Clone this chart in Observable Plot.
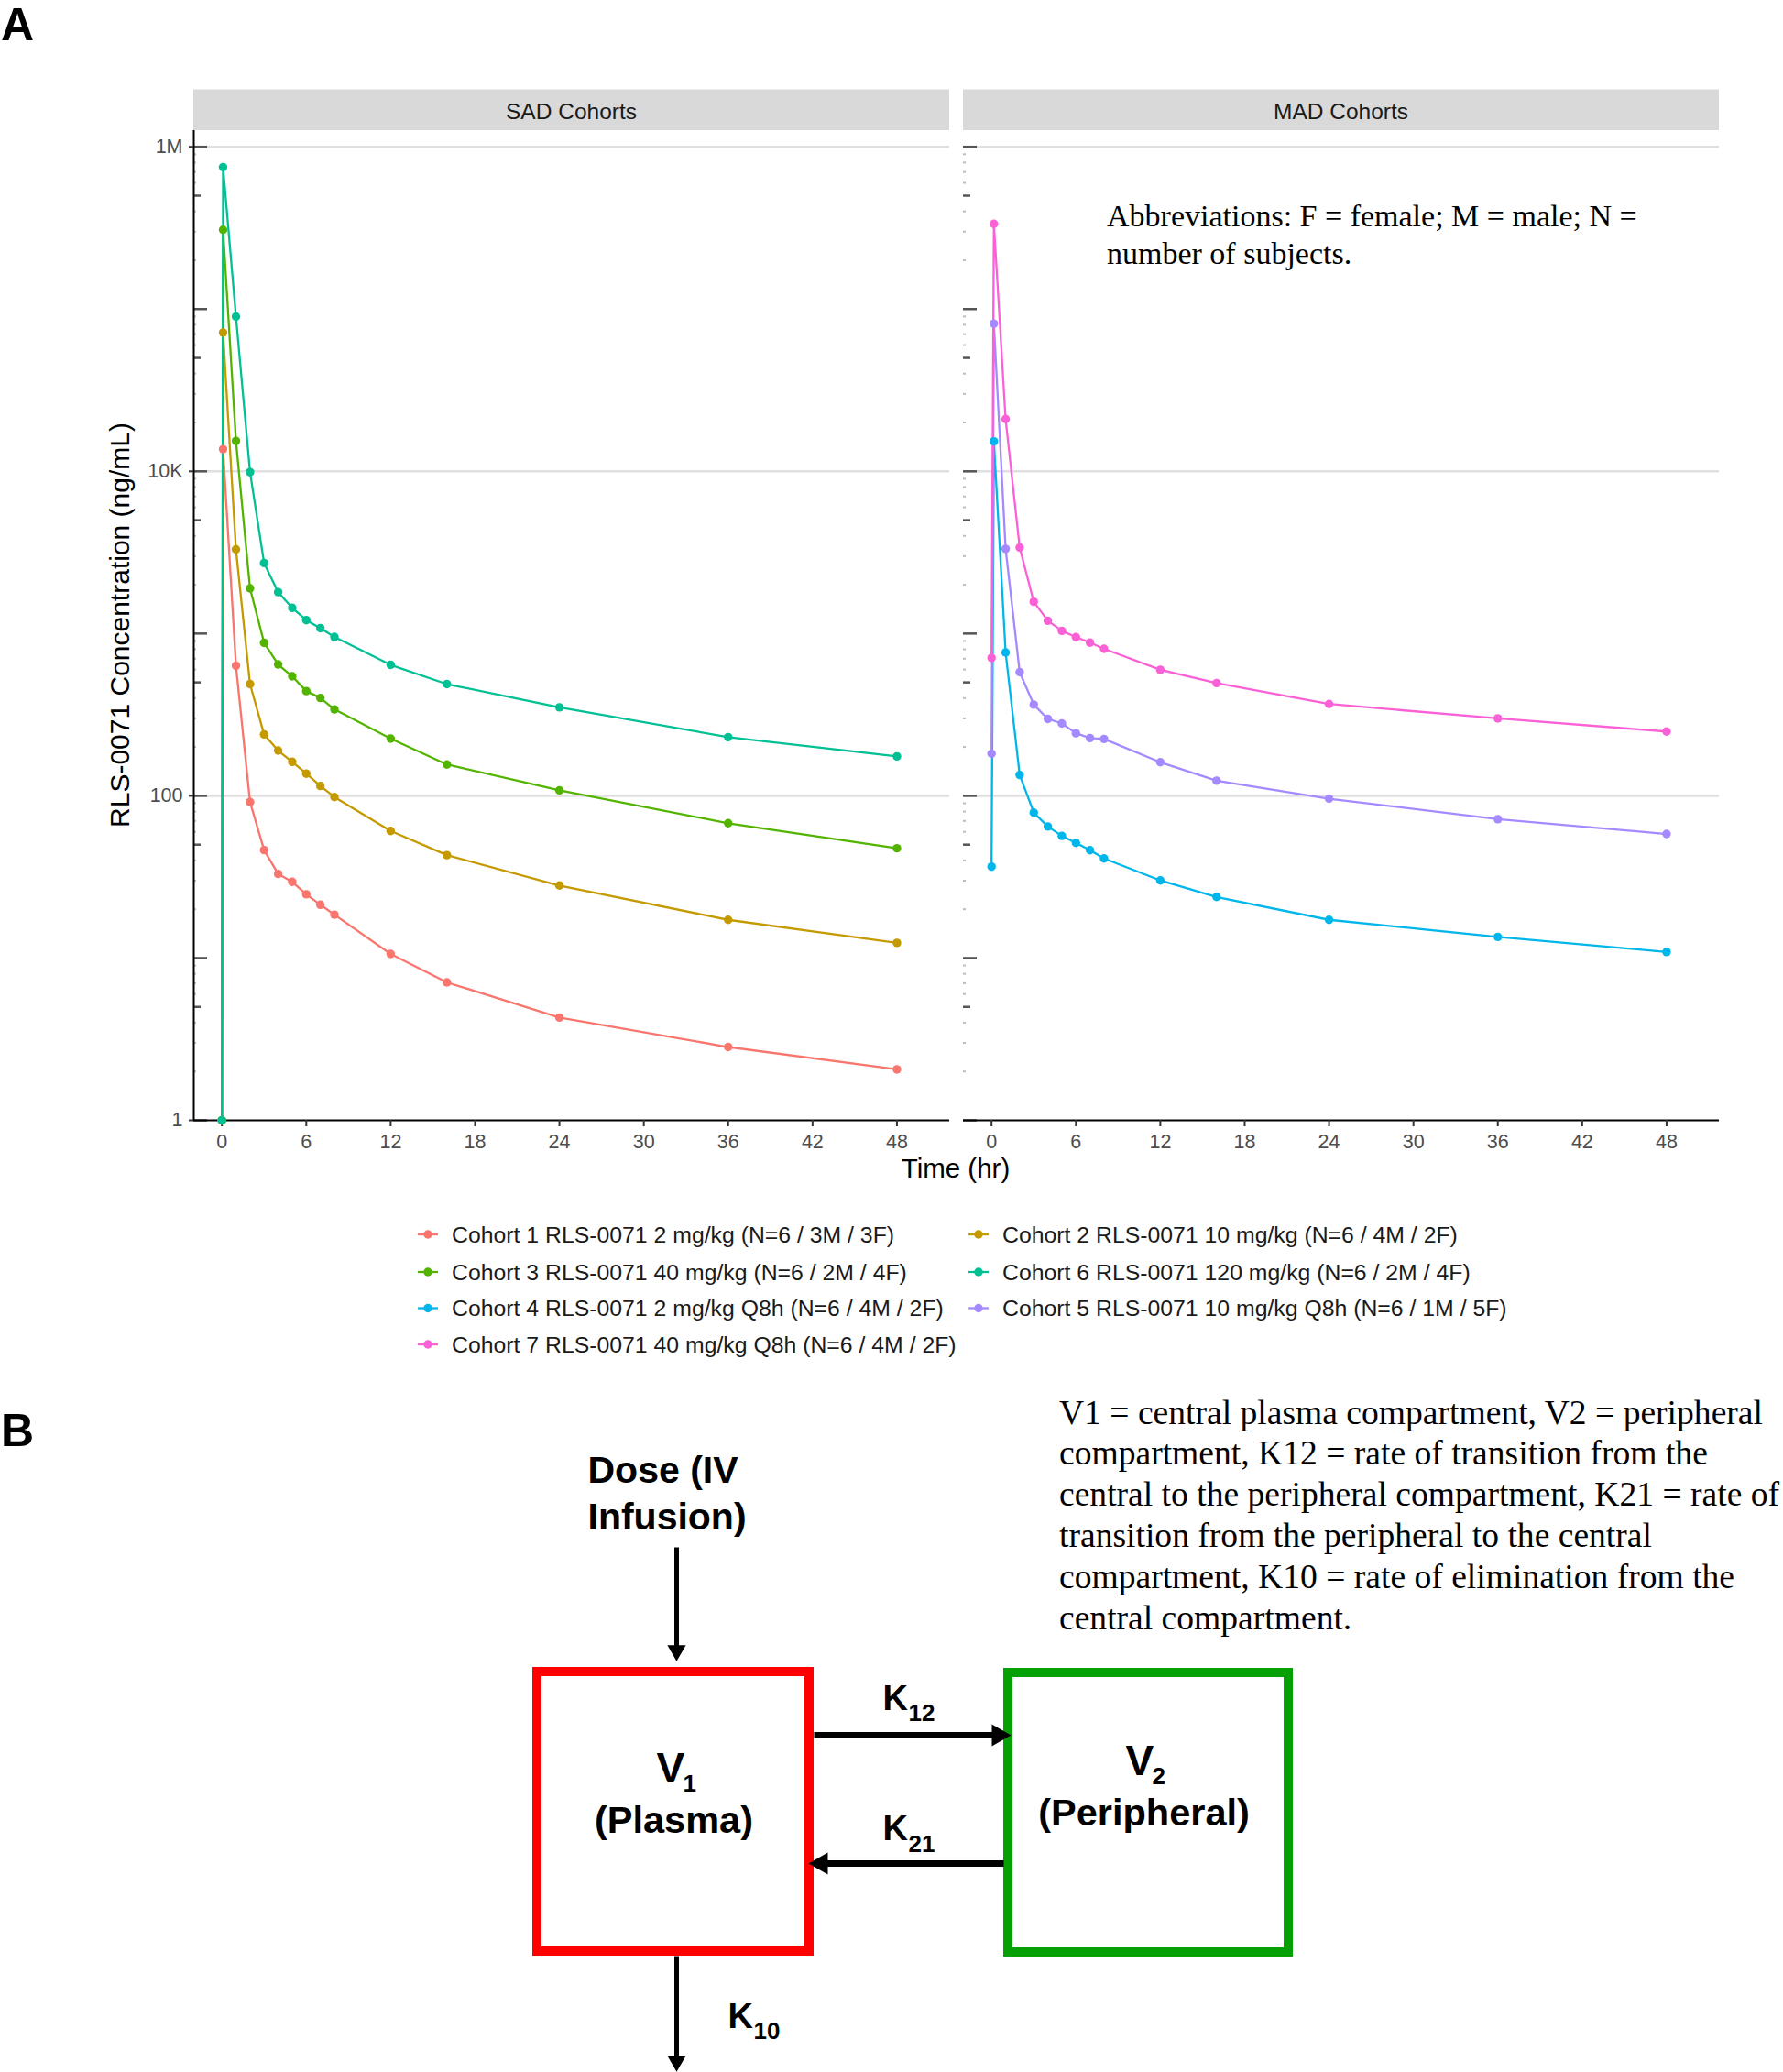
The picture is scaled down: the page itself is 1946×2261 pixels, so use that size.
<!DOCTYPE html>
<html><head><meta charset="utf-8">
<script src="https://cdn.jsdelivr.net/npm/d3@7"></script>
<script src="https://cdn.jsdelivr.net/npm/@observablehq/plot@0.6"></script>
<style>
html,body{margin:0;padding:0;background:#fff;}
#page{position:relative;width:1946px;height:2261px;overflow:hidden;background:#fff;font-family:"Liberation Sans",Arial,Helvetica,sans-serif;}
#page > svg{position:absolute;}
</style></head><body><div id="page"></div>
<script>
// ---------------- DATA ----------------
const sadTimes = [0, 0.083, 1, 2, 3, 4, 5, 6, 7, 8, 12, 16, 24, 36, 48];
const madTimes = [0, 0.167, 1, 2, 3, 4, 5, 6, 7, 8, 12, 16, 24, 36, 48];
// SAD cohorts (ng/mL)
const cohort1 = [1, 13700, 634, 91.6, 46.3, 33.0, 29.5, 24.7, 21.3, 18.5, 10.6, 7.08, 4.30, 2.83, 2.06];
const cohort2 = [1, 71700, 3300, 488, 239, 190, 162, 137, 115, 98.3, 60.7, 43.1, 28.0, 17.2, 12.4];
const cohort3 = [1, 308000, 15400, 1900, 877, 645, 545, 442, 401, 341, 225, 156, 108, 67.8, 47.5];
const cohort6 = [1, 750000, 89800, 9900, 2720, 1800, 1440, 1210, 1080, 953, 641, 488, 351, 230, 175];
// MAD cohorts (ng/mL)
const cohort4 = [36.6, 15300, 764, 134.5, 78.8, 64.7, 56.6, 51.3, 46.2, 41.1, 30.1, 23.8, 17.2, 13.5, 10.9];
const cohort5 = [182, 81400, 3330, 578, 365, 298, 279, 243, 227, 224, 161, 124, 96.0, 71.8, 58.2];
const cohort7 = [708, 335000, 21000, 3390, 1570, 1200, 1040, 950, 880, 805, 598, 495, 368, 300, 249];

const panels = ["SAD Cohorts", "MAD Cohorts"];
const cohortNames = [
  "Cohort 1 RLS-0071 2 mg/kg (N=6 / 3M / 3F)",
  "Cohort 2 RLS-0071 10 mg/kg (N=6 / 4M / 2F)",
  "Cohort 3 RLS-0071 40 mg/kg (N=6 / 2M / 4F)",
  "Cohort 6 RLS-0071 120 mg/kg (N=6 / 2M / 4F)",
  "Cohort 4 RLS-0071 2 mg/kg Q8h (N=6 / 4M / 2F)",
  "Cohort 5 RLS-0071 10 mg/kg Q8h (N=6 / 1M / 5F)",
  "Cohort 7 RLS-0071 40 mg/kg Q8h (N=6 / 4M / 2F)"
];
const cohortSeries = [cohort1, cohort2, cohort3, cohort6, cohort4, cohort5, cohort7];
const cohortPanel = [0, 0, 0, 0, 1, 1, 1];
const palette = ["#F8766D", "#C49A00", "#53B400", "#00C094", "#00B6EB", "#A58AFF", "#FB61D7"];

const xTicks = [0, 6, 12, 18, 24, 30, 36, 42, 48];
const yTickValues = [1, 100, 1e4, 1e6];
const yTickLabels = ["1", "100", "10K", "1M"];
const gridValues = [100, 1e4, 1e6];

const xTitle = "Time (hr)";
const yTitle = "RLS-0071 Concentration (ng/mL)";
const abbrevLines = ["Abbreviations: F = female; M = male; N =", "number of subjects."];
const legendText = cohortNames;
const notesB = [
  "V1 = central plasma compartment, V2 = peripheral",
  "compartment, K12 = rate of transition from the",
  "central to the peripheral compartment, K21 = rate of",
  "transition from the peripheral to the central",
  "compartment, K10 = rate of elimination from the",
  "central compartment."
];

// build table
const rows = [];
cohortSeries.forEach((vals, i) => {
  const times = cohortPanel[i] === 0 ? sadTimes : madTimes;
  vals.forEach((v, j) => rows.push({cohort: cohortNames[i], panel: panels[cohortPanel[i]], time: times[j], conc: v}));
});

// log ticks (annotation style)
const longTicks = d3.range(0, 7).map(k => 10 ** k);
const midTicks = d3.range(0, 6).map(k => 5 * 10 ** k);
const shortTicks = [];
for (let k = 0; k < 6; k++) for (const m of [2, 3, 4, 6, 7, 8, 9]) shortTicks.push(m * 10 ** k);

// ---------------- LAYOUT ----------------
const page = d3.select("#page");
const SANS = "'Liberation Sans', Arial, Helvetica, sans-serif";
const SERIF = "'Liberation Serif', 'Times New Roman', Times, serif";
const PANEL_W = 825;
const xDomain = [-2, 51.75];
const yDomain = [1, 10 ** 6.1];

function panelPlot(panelIndex, width, marginLeft, marginRight) {
  const panel = panels[panelIndex];
  const data = rows.filter(d => d.panel === panel);
  const marks = [
    Plot.ruleY(gridValues, {stroke: "#E0E0E0", strokeWidth: 2.5}),
    Plot.ruleY(shortTicks, {insetRight: PANEL_W - 3, stroke: "#BDBDBD", strokeWidth: 2}),
    Plot.ruleY(midTicks, {insetRight: PANEL_W - 8, stroke: "#555", strokeWidth: 2.5}),
    Plot.ruleY(longTicks, {insetRight: PANEL_W - 15, stroke: "#555", strokeWidth: 2.5}),
    Plot.ruleY([yDomain[0]], {stroke: "#000", strokeWidth: 2}),
    Plot.axisX(xTicks, {tickSize: 7, tickPadding: 8, fontSize: 21.5, stroke: "#333", fill: "#4D4D4D", strokeWidth: 2, label: null})
  ];
  if (panelIndex === 0) {
    marks.push(
      Plot.ruleX([xDomain[0]], {stroke: "#000", strokeWidth: 2}),
      Plot.axisY(yTickValues, {anchor: "left", tickSize: 5, tickPadding: 7, fontSize: 21.5, stroke: "#333", fill: "#4D4D4D", strokeWidth: 2, label: null,
        tickFormat: d => yTickLabels[yTickValues.indexOf(d)]})
    );
  }
  marks.push(
    Plot.line(data, {x: "time", y: "conc", stroke: "cohort", z: "cohort", strokeWidth: 2.3}),
    Plot.dot(data, {x: "time", y: "conc", fill: "cohort", r: 4.7})
  );
  return Plot.plot({
    width, height: 1300,
    marginLeft, marginRight, marginTop: 142, marginBottom: 78,
    x: {domain: xDomain},
    y: {type: "log", domain: yDomain, axis: panelIndex === 0 ? undefined : null},
    color: {domain: cohortNames, range: palette},
    style: {fontFamily: SANS, fontSize: "21px", color: "#4D4D4D", background: "transparent", overflow: "visible"},
    marks
  });
}

const sad = panelPlot(0, 1040, 211, 4);
d3.select(sad).style("left", "0px").style("top", "0px");
page.node().appendChild(sad);
const mad = panelPlot(1, 906, 11, 70);
d3.select(mad).style("left", "1040px").style("top", "0px");
page.node().appendChild(mad);
const colorOf = sad.scale("color");

// ---------------- DIAGRAM (panel B) ----------------
const compartments = [
  {id: "V1", x1: 586, x2: 883, y1: 1824, y2: 2129, color: "#FF0000"},
  {id: "V2", x1: 1100, x2: 1406, y1: 1825, y2: 2130, color: "#05A005"}
];
const thinShafts = [
  {id: "dose", x1: 738, y1: 1688, x2: 738, y2: 1800},
  {id: "K10", x1: 738, y1: 2134, x2: 738, y2: 2248}
];
const thickShafts = [
  {id: "K12", x1: 888, y1: 1893, x2: 1090, y2: 1893},
  {id: "K21", x1: 1095, y1: 2033, x2: 896, y2: 2033}
];
const thinHeads = [
  {id: "dose", x: 738, y: 1800.5, rot: 180},
  {id: "K10", x: 738, y: 2248.5, rot: 180}
];
const thickHeads = [
  {id: "K12", x: 1089, y: 1893, rot: 90},
  {id: "K21", x: 896, y: 2033, rot: 270}
];
const bigLabels = [
  {text: "Dose (IV", x: 641, y: 1617, anchor: "start"},
  {text: "Infusion)", x: 641, y: 1668, anchor: "start"},
  {text: "(Plasma)", x: 735, y: 1999, anchor: "middle"},
  {text: "(Peripheral)", x: 1248, y: 1991, anchor: "middle"}
];
const symLabels = [
  {text: "V", x: 716, y: 1944, size: 46},
  {text: "V", x: 1228, y: 1936, size: 46},
  {text: "K", x: 963, y: 1865, size: 38},
  {text: "K", x: 963, y: 2007, size: 38},
  {text: "K", x: 794, y: 2212, size: 38}
];
const subLabels = [
  {text: "1", x: 745, y: 1954},
  {text: "2", x: 1257, y: 1946},
  {text: "12", x: 991, y: 1877},
  {text: "21", x: 991, y: 2020},
  {text: "10", x: 822, y: 2224}
];

const diagram = Plot.plot({
  width: 1946, height: 761,
  marginLeft: 0, marginRight: 0, marginTop: 0, marginBottom: 0,
  x: {domain: [0, 1946], range: [0, 1946], axis: null},
  y: {domain: [1500, 2261], range: [0, 761], axis: null},
  color: {type: "identity"},
  style: {fontFamily: SANS, background: "transparent", overflow: "visible"},
  marks: [
    Plot.rect(compartments, {x1: "x1", x2: "x2", y1: "y1", y2: "y2", stroke: "color", fill: "none", strokeWidth: 10}),
    Plot.link(thinShafts, {x1: "x1", y1: "y1", x2: "x2", y2: "y2", stroke: "#000", strokeWidth: 5}),
    Plot.link(thickShafts, {x1: "x1", y1: "y1", x2: "x2", y2: "y2", stroke: "#000", strokeWidth: 7}),
    Plot.dot(thinHeads, {x: "x", y: "y", rotate: "rot", symbol: "triangle", r: 7.5, fill: "#000", stroke: "none"}),
    Plot.dot(thickHeads, {x: "x", y: "y", rotate: "rot", symbol: "triangle", r: 9, fill: "#000", stroke: "none"}),
    Plot.text(bigLabels.filter(d => d.anchor === "start"), {x: "x", y: "y", text: "text", textAnchor: "start", lineAnchor: "bottom", fontSize: 41, fontWeight: "bold", fill: "#000"}),
    Plot.text(bigLabels.filter(d => d.anchor === "middle"), {x: "x", y: "y", text: "text", textAnchor: "middle", lineAnchor: "bottom", fontSize: 41.5, fontWeight: "bold", fill: "#000"}),
    Plot.text(symLabels.filter(d => d.size === 46), {x: "x", y: "y", text: "text", textAnchor: "start", lineAnchor: "bottom", fontSize: 46, fontWeight: "bold", fill: "#000"}),
    Plot.text(symLabels.filter(d => d.size === 38), {x: "x", y: "y", text: "text", textAnchor: "start", lineAnchor: "bottom", fontSize: 38, fontWeight: "bold", fill: "#000"}),
    Plot.text(subLabels, {x: "x", y: "y", text: "text", textAnchor: "start", lineAnchor: "bottom", fontSize: 26, fontWeight: "bold", fill: "#000"})
  ]
});
d3.select(diagram).style("left", "0px").style("top", "1500px");
page.node().appendChild(diagram);

// ---------------- OVERLAY TEXT ----------------
const ov = page.append("svg").attr("width", 1946).attr("height", 2261)
  .style("left", "0px").style("top", "0px").style("pointer-events", "none");
function txt(str, x, y, o = {}) {
  const t = ov.append("text").attr("x", x).attr("y", y).text(str)
    .attr("font-family", o.family || SANS).attr("font-size", o.size || 21)
    .attr("font-weight", o.weight || "normal").attr("fill", o.fill || "#000")
    .attr("text-anchor", o.anchor || "start");
  if (o.transform) t.attr("transform", o.transform);
  return t;
}
// panel labels
txt("A", 1, 44, {size: 50, weight: "bold"});
txt("B", 1, 1578, {size: 50, weight: "bold"});
// strips
const stripX = [211, 1051];
panels.forEach((p, i) => {
  ov.append("rect").attr("x", stripX[i]).attr("y", 97.5).attr("width", PANEL_W).attr("height", 44.5).attr("fill", "#D9D9D9");
  txt(p, stripX[i] + PANEL_W / 2, 130, {size: 24.5, fill: "#1A1A1A", anchor: "middle"});
});
// axis titles
txt(yTitle, 0, 0, {size: 30, anchor: "middle", transform: "translate(141,682) rotate(-90)"});
txt(xTitle, 1043, 1285, {size: 29.5, anchor: "middle"});
// abbreviations
abbrevLines.forEach((l, i) => txt(l, 1208, 247 + i * 41, {size: 34, family: SERIF}));
// legend (byrow, 2 columns)
const legCols = [467, 1068];
const legRows = [1347, 1388, 1427.5, 1467];
legendText.forEach((name, i) => {
  const cx = legCols[i % 2], cy = legRows[Math.floor(i / 2)];
  const c = colorOf.apply(name);
  ov.append("line").attr("x1", cx - 11).attr("x2", cx + 11).attr("y1", cy).attr("y2", cy).attr("stroke", c).attr("stroke-width", 2.3);
  ov.append("circle").attr("cx", cx).attr("cy", cy).attr("r", 4.7).attr("fill", c);
  txt(name, cx + 26, cy + 8.5, {size: 24.8, fill: "#1A1A1A"});
});
// notes for B
notesB.forEach((l, i) => txt(l, 1156, 1553.5 + i * 44.8, {size: 37.6, family: SERIF}));
</script></body></html>
